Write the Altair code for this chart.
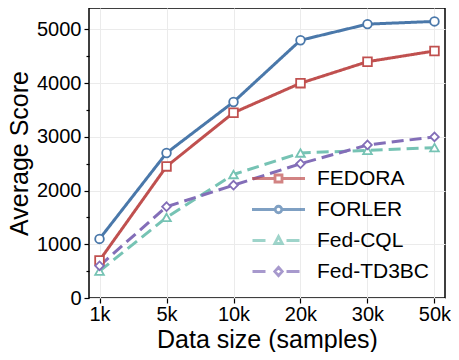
import altair as alt
import pandas as pd

# ---- data ----
sizes = ["1k", "5k", "10k", "20k", "30k", "50k"]
series = ["FEDORA", "FORLER", "Fed-CQL", "Fed-TD3BC"]
fedora = [700, 2450, 3450, 4000, 4400, 4600]
forler = [1100, 2700, 3650, 4800, 5100, 5150]
fed_cql = [500, 1500, 2300, 2700, 2750, 2800]
fed_td3bc = [600, 1700, 2100, 2500, 2850, 3000]

colors = ["#C0504F", "#4A78AA", "#76C3B4", "#836EB8"]
dashes = [[1, 0], [1, 0], [12, 6], [12, 6]]
shapes = ["square", "circle", "triangle-up", "diamond"]

# legend glyphs: line + marker (custom SVG paths, scaled by sqrt(size)/2)
solid = "M-5.3,0H-0.8M0.8,0H5.3"
dashed = "M-5.2,0H-2.6M1.6,0H4.2"
legend_paths = [
    solid + "M-0.7,-0.7H0.7V0.7H-0.7Z",
    solid + "M0.65,0A0.65,0.65 0 1,1 -0.65,0A0.65,0.65 0 1,1 0.65,0Z",
    dashed + "M0,-0.8L0.75,0.6L-0.75,0.6Z",
    dashed + "M0,-0.85L0.75,0L0,0.85L-0.75,0Z",
]

rows = []
for name, vals in zip(series, [fedora, forler, fed_cql, fed_td3bc]):
    for s, v in zip(sizes, vals):
        rows.append({"series": name, "size": s, "score": v})
df = pd.DataFrame(rows)

FONT = "Liberation Sans, Arial, sans-serif"

x_enc = alt.X(
    "size:N",
    sort=sizes,
    scale=alt.Scale(type="point", domain=sizes, padding=0.157),
    axis=alt.Axis(
        title="Data size (samples)",
        labelAngle=0,
        tickSize=5,
        labelPadding=1,
        titlePadding=3,
        grid=True,
    ),
)
y_enc = alt.Y(
    "score:Q",
    scale=alt.Scale(domain=[0, 5400], nice=False),
    axis=alt.Axis(
        title="Average Score",
        values=list(range(0, 5001, 500)),
        labelExpr="datum.value % 1000 === 0 ? datum.label : ''",
        tickSize={"condition": {"test": "datum.value % 1000 === 0", "value": 5}, "value": 3},
        gridOpacity={"condition": {"test": "datum.value % 1000 === 0", "value": 1}, "value": 0},
        labelPadding=3,
        titlePadding=4,
        format="d",
    ),
)

base = alt.Chart(df)

lines = base.mark_line(strokeWidth=3).encode(
    x=x_enc,
    y=y_enc,
    color=alt.Color("series:N", scale=alt.Scale(domain=series, range=colors), legend=None),
    strokeDash=alt.StrokeDash("series:N", scale=alt.Scale(domain=series, range=dashes), legend=None),
    detail="series:N",
)

points = base.mark_point(filled=True, fill="white", fillOpacity=1, size=75, strokeWidth=1.8, opacity=1).encode(
    x=x_enc,
    y=y_enc,
    stroke=alt.Stroke("series:N", scale=alt.Scale(domain=series, range=colors), legend=None),
    shape=alt.Shape("series:N", scale=alt.Scale(domain=series, range=shapes), legend=None),
)

legend_layer = base.transform_filter("false").mark_point(
    filled=True, fill="white", size=100, strokeWidth=2.8
).encode(
    x=x_enc,
    y=y_enc,
    stroke=alt.Stroke(
        "series:N",
        scale=alt.Scale(domain=series, range=colors),
        legend=alt.Legend(title=None),
    ),
    shape=alt.Shape(
        "series:N",
        scale=alt.Scale(domain=series, range=legend_paths),
        legend=alt.Legend(title=None),
    ),
)

chart = (
    alt.layer(lines, points, legend_layer)
    .resolve_scale(stroke="independent", shape="independent")
    .properties(
        width=356,
        height=290,
        autosize=alt.AutoSizeParams(type="none"),
        padding={"left": 81, "top": 0, "right": 6, "bottom": 54},
    )
    .configure(font=FONT)
    .configure_view(stroke="black", strokeWidth=1.5)
    .configure_axis(
        labelFont=FONT,
        titleFont=FONT,
        labelFontSize=20,
        titleFontSize=25,
        labelColor="black",
        titleColor="black",
        titleFontWeight="normal",
        tickColor="black",
        tickWidth=1.2,
        domain=False,
        gridColor="#ebebeb",
        gridWidth=1,
    )
    .configure_legend(
        orient="none",
        legendX=179,
        legendY=160,
        padding=0,
        labelFont=FONT,
        labelFontSize=21,
        labelColor="black",
        labelOffset=28,
        rowPadding=9,
        symbolFillColor="white",
        symbolStrokeWidth=2.8,
        symbolSize=100,
    )
)

chart.save("out.html", embed_options={"renderer": "svg", "actions": False})
